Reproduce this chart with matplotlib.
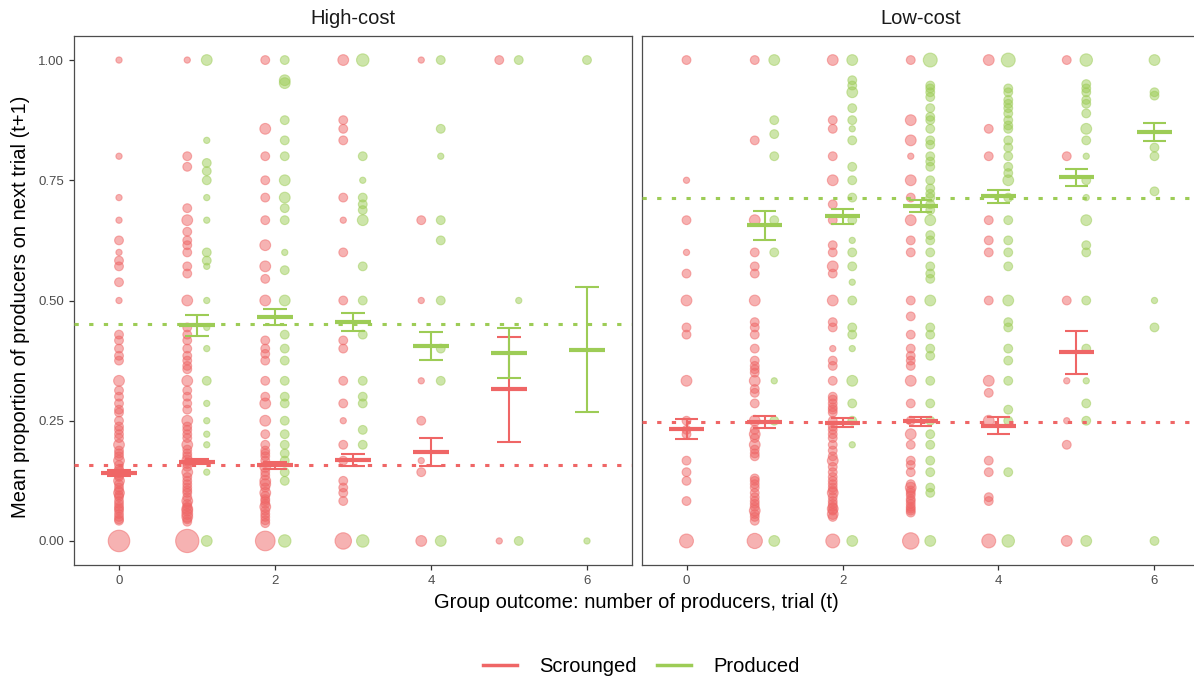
import matplotlib
matplotlib.use("Agg")
import matplotlib.pyplot as plt
from matplotlib.lines import Line2D

plt.rcParams['font.family'] = ['Liberation Sans', 'DejaVu Sans']

RED = '#EF6666'
GREEN = '#9DCC56'

facets = ["High-cost", "Low-cost"]

# individual group proportions: (proportion on next trial, number of groups)
hc_scrounged = {
    0: [(1.0, 1), (0.8, 1), (0.714, 1), (0.667, 1), (0.625, 2), (0.6, 1), (0.583, 2), (0.571, 2), (0.538, 2), (0.5, 1),
        (0.429, 2), (0.417, 2), (0.4, 2), (0.385, 2), (0.375, 2), (0.333, 3), (0.313, 2), (0.3, 2), (0.286, 2), (0.273, 2),
        (0.267, 2), (0.25, 2), (0.238, 2), (0.231, 2), (0.222, 2), (0.214, 2), (0.2, 3), (0.188, 2), (0.182, 2), (0.176, 2),
        (0.167, 3), (0.158, 2), (0.15, 2), (0.143, 3), (0.136, 2), (0.133, 2), (0.125, 3), (0.118, 2), (0.111, 2), (0.105, 2),
        (0.1, 3), (0.095, 2), (0.091, 2), (0.083, 2), (0.077, 2), (0.071, 2), (0.067, 2), (0.063, 2), (0.056, 2), (0.05, 2),
        (0.045, 2), (0.042, 2), (0.0, 12)],
    1: [(1.0, 1), (0.8, 2), (0.778, 2), (0.692, 2), (0.667, 3), (0.643, 2), (0.625, 2), (0.615, 2), (0.6, 2), (0.571, 2),
        (0.556, 2), (0.5, 3), (0.444, 2), (0.429, 2), (0.417, 2), (0.4, 2), (0.385, 2), (0.375, 2), (0.364, 2), (0.357, 2),
        (0.333, 3), (0.313, 2), (0.3, 2), (0.286, 2), (0.273, 2), (0.25, 3), (0.238, 2), (0.231, 2), (0.222, 2), (0.214, 2),
        (0.2, 3), (0.19, 2), (0.182, 2), (0.176, 2), (0.167, 3), (0.16, 2), (0.154, 2), (0.143, 3), (0.133, 2), (0.125, 2),
        (0.118, 2), (0.111, 2), (0.105, 2), (0.1, 2), (0.091, 2), (0.083, 3), (0.077, 2), (0.071, 2), (0.067, 3), (0.063, 3),
        (0.056, 3), (0.05, 3), (0.045, 2), (0.04, 2), (0.0, 14)],
    2: [(1.0, 2), (0.857, 3), (0.8, 2), (0.75, 2), (0.714, 2), (0.667, 2), (0.615, 3), (0.571, 3), (0.545, 2), (0.5, 3),
        (0.417, 2), (0.4, 2), (0.389, 2), (0.375, 2), (0.333, 2), (0.3, 2), (0.286, 3), (0.25, 3), (0.222, 2), (0.2, 2),
        (0.188, 2), (0.182, 2), (0.176, 2), (0.167, 2), (0.154, 3), (0.143, 2), (0.136, 2), (0.125, 3), (0.118, 3), (0.111, 2),
        (0.1, 3), (0.094, 2), (0.087, 2), (0.083, 2), (0.077, 2), (0.071, 3), (0.063, 2), (0.056, 2), (0.05, 2), (0.043, 2),
        (0.037, 2), (0.0, 10)],
    3: [(1.0, 3), (0.875, 2), (0.857, 2), (0.833, 2), (0.714, 2), (0.667, 1), (0.6, 2), (0.5, 2), (0.417, 2), (0.4, 2),
        (0.333, 2), (0.286, 2), (0.25, 1), (0.2, 2), (0.167, 2), (0.125, 2), (0.111, 2), (0.1, 2), (0.083, 2), (0.0, 7)],
    4: [(1.0, 1), (0.667, 2), (0.5, 1), (0.333, 1), (0.25, 2), (0.167, 1), (0.143, 2), (0.0, 3)],
    5: [(1.0, 2), (0.0, 1)],
}
hc_produced = {
    1: [(1.0, 3), (0.833, 1), (0.786, 2), (0.769, 2), (0.75, 2), (0.714, 1), (0.667, 1), (0.6, 2), (0.583, 2), (0.571, 1),
        (0.5, 1), (0.444, 1), (0.4, 1), (0.333, 2), (0.286, 1), (0.25, 1), (0.222, 1), (0.2, 1), (0.143, 1), (0.0, 3)],
    2: [(1.0, 2), (0.958, 3), (0.952, 3), (0.875, 2), (0.833, 2), (0.8, 2), (0.75, 3), (0.714, 3), (0.692, 2), (0.667, 2),
        (0.6, 1), (0.563, 2), (0.5, 3), (0.429, 2), (0.4, 2), (0.375, 2), (0.333, 2), (0.3, 2), (0.286, 2), (0.25, 2),
        (0.222, 2), (0.2, 2), (0.182, 2), (0.167, 2), (0.143, 2), (0.125, 2), (0.0, 4)],
    3: [(1.0, 4), (0.8, 2), (0.75, 1), (0.714, 2), (0.7, 2), (0.688, 2), (0.667, 3), (0.571, 2), (0.5, 2), (0.429, 2),
        (0.333, 2), (0.3, 2), (0.286, 2), (0.231, 2), (0.2, 2), (0.0, 4)],
    4: [(1.0, 2), (0.857, 2), (0.8, 1), (0.667, 2), (0.625, 2), (0.5, 2), (0.4, 2), (0.333, 2), (0.0, 3)],
    5: [(1.0, 2), (0.5, 1), (0.0, 2)],
    6: [(1.0, 2), (0.0, 1)],
}
lc_scrounged = {
    0: [(1.0, 2), (0.75, 1), (0.667, 2), (0.6, 1), (0.556, 2), (0.5, 3), (0.444, 2), (0.429, 2), (0.333, 3), (0.25, 2),
        (0.231, 2), (0.222, 2), (0.167, 2), (0.143, 2), (0.125, 2), (0.083, 2), (0.0, 5)],
    1: [(1.0, 2), (0.833, 2), (0.667, 3), (0.6, 2), (0.571, 2), (0.556, 2), (0.5, 3), (0.455, 2), (0.444, 2), (0.429, 2),
        (0.4, 2), (0.375, 2), (0.364, 2), (0.357, 2), (0.35, 2), (0.333, 3), (0.316, 2), (0.308, 2), (0.286, 2), (0.25, 3),
        (0.231, 2), (0.222, 3), (0.214, 2), (0.2, 3), (0.19, 2), (0.182, 2), (0.176, 2), (0.13, 2), (0.125, 2), (0.118, 2),
        (0.111, 2), (0.1, 2), (0.091, 2), (0.083, 2), (0.077, 2), (0.071, 2), (0.063, 3), (0.056, 2), (0.05, 2), (0.042, 2),
        (0.0, 6)],
    2: [(1.0, 3), (0.875, 2), (0.857, 2), (0.8, 2), (0.75, 3), (0.7, 2), (0.667, 2), (0.615, 2), (0.6, 2), (0.571, 3),
        (0.556, 2), (0.5, 3), (0.455, 2), (0.444, 2), (0.4, 1), (0.375, 2), (0.364, 2), (0.333, 2), (0.3, 2), (0.294, 2),
        (0.286, 2), (0.278, 2), (0.273, 2), (0.267, 2), (0.25, 2), (0.238, 2), (0.231, 2), (0.222, 2), (0.214, 2), (0.2, 2),
        (0.188, 2), (0.176, 2), (0.167, 3), (0.154, 2), (0.143, 2), (0.133, 2), (0.125, 2), (0.118, 2), (0.111, 2),
        (0.105, 2), (0.1, 3), (0.091, 2), (0.083, 2), (0.077, 2), (0.071, 2), (0.067, 3), (0.063, 2), (0.056, 3),
        (0.05, 2), (0.0, 5)],
    3: [(1.0, 2), (0.875, 3), (0.833, 3), (0.8, 1), (0.75, 3), (0.714, 2), (0.667, 3), (0.625, 2), (0.6, 2), (0.5, 2),
        (0.467, 2), (0.429, 2), (0.4, 2), (0.385, 2), (0.375, 2), (0.364, 2), (0.333, 3), (0.286, 2), (0.25, 2), (0.222, 3),
        (0.2, 2), (0.167, 2), (0.158, 2), (0.143, 2), (0.118, 2), (0.111, 3), (0.105, 2), (0.1, 2), (0.095, 2), (0.087, 2),
        (0.083, 2), (0.077, 2), (0.071, 2), (0.067, 2), (0.063, 2), (0.059, 2), (0.0, 7)],
    4: [(1.0, 3), (0.857, 2), (0.8, 2), (0.667, 2), (0.625, 2), (0.6, 2), (0.5, 2), (0.333, 3), (0.308, 2), (0.25, 3),
        (0.167, 2), (0.143, 2), (0.091, 2), (0.083, 2), (0.0, 5)],
    5: [(1.0, 2), (0.8, 2), (0.5, 2), (0.333, 1), (0.25, 1), (0.2, 2), (0.0, 3)],
}
lc_produced = {
    1: [(1.0, 3), (0.875, 2), (0.846, 2), (0.8, 2), (0.667, 2), (0.6, 2), (0.333, 1), (0.25, 2), (0.0, 3)],
    2: [(1.0, 3), (0.958, 2), (0.947, 2), (0.933, 3), (0.9, 2), (0.875, 2), (0.857, 1), (0.833, 2), (0.778, 2), (0.75, 2),
        (0.714, 2), (0.667, 2), (0.625, 1), (0.6, 2), (0.571, 2), (0.538, 1), (0.5, 2), (0.444, 2), (0.429, 2), (0.4, 1),
        (0.333, 3), (0.286, 2), (0.25, 2), (0.2, 1), (0.0, 3)],
    3: [(1.0, 5), (0.947, 2), (0.941, 2), (0.933, 2), (0.923, 2), (0.9, 2), (0.882, 2), (0.875, 2), (0.857, 2), (0.833, 2),
        (0.824, 2), (0.8, 2), (0.789, 2), (0.778, 2), (0.75, 2), (0.733, 2), (0.722, 2), (0.714, 2), (0.7, 2), (0.688, 2),
        (0.667, 3), (0.636, 2), (0.625, 2), (0.6, 2), (0.571, 2), (0.556, 2), (0.545, 2), (0.5, 3), (0.444, 2), (0.429, 2),
        (0.4, 2), (0.385, 2), (0.333, 2), (0.286, 2), (0.25, 2), (0.222, 2), (0.2, 2), (0.167, 2), (0.143, 2), (0.111, 2),
        (0.1, 2), (0.0, 3)],
    4: [(1.0, 5), (0.941, 2), (0.933, 2), (0.917, 2), (0.909, 2), (0.9, 2), (0.889, 2), (0.875, 2), (0.864, 2), (0.857, 2),
        (0.833, 2), (0.818, 2), (0.8, 2), (0.778, 2), (0.765, 2), (0.75, 3), (0.714, 2), (0.667, 2), (0.625, 2), (0.6, 2),
        (0.571, 2), (0.5, 3), (0.455, 2), (0.444, 2), (0.4, 2), (0.375, 2), (0.333, 2), (0.273, 2), (0.25, 2), (0.143, 2),
        (0.0, 4)],
    5: [(1.0, 4), (0.95, 2), (0.941, 2), (0.933, 2), (0.917, 2), (0.909, 2), (0.889, 2), (0.857, 3), (0.833, 2), (0.8, 1),
        (0.75, 2), (0.714, 1), (0.667, 3), (0.615, 2), (0.6, 2), (0.5, 2), (0.4, 2), (0.333, 1), (0.286, 2), (0.25, 2),
        (0.0, 3)],
    6: [(1.0, 3), (0.933, 2), (0.926, 2), (0.818, 2), (0.8, 2), (0.727, 2), (0.5, 1), (0.444, 2), (0.0, 2)],
}

# means with +/- 1 SE per group outcome
hc_scr_x = [0, 1, 2, 3, 4, 5]
hc_scr_mean = [0.1415, 0.165, 0.158, 0.168, 0.184, 0.315]
hc_scr_lo = [0.135, 0.159, 0.149, 0.155, 0.156, 0.206]
hc_scr_hi = [0.148, 0.171, 0.165, 0.181, 0.215, 0.424]

hc_pro_x = [1, 2, 3, 4, 5, 6]
hc_pro_mean = [0.449, 0.466, 0.456, 0.405, 0.391, 0.398]
hc_pro_lo = [0.427, 0.449, 0.437, 0.376, 0.339, 0.268]
hc_pro_hi = [0.470, 0.482, 0.474, 0.435, 0.443, 0.528]

lc_scr_x = [0, 1, 2, 3, 4, 5]
lc_scr_mean = [0.232, 0.247, 0.246, 0.249, 0.240, 0.392]
lc_scr_lo = [0.211, 0.234, 0.236, 0.238, 0.222, 0.347]
lc_scr_hi = [0.253, 0.260, 0.256, 0.258, 0.258, 0.437]

lc_pro_x = [1, 2, 3, 4, 5, 6]
lc_pro_mean = [0.657, 0.676, 0.697, 0.718, 0.757, 0.850]
lc_pro_lo = [0.626, 0.660, 0.683, 0.703, 0.739, 0.832]
lc_pro_hi = [0.687, 0.690, 0.709, 0.730, 0.774, 0.870]

# overall means (dotted reference lines)
hc_overall = {"Scrounged": 0.158, "Produced": 0.452}
lc_overall = {"Scrounged": 0.248, "Produced": 0.713}

panels = [
    (hc_scrounged, hc_produced,
     (hc_scr_x, hc_scr_mean, hc_scr_lo, hc_scr_hi),
     (hc_pro_x, hc_pro_mean, hc_pro_lo, hc_pro_hi), hc_overall),
    (lc_scrounged, lc_produced,
     (lc_scr_x, lc_scr_mean, lc_scr_lo, lc_scr_hi),
     (lc_pro_x, lc_pro_mean, lc_pro_lo, lc_pro_hi), lc_overall),
]

W, H = 1194, 678
fig = plt.figure(figsize=(W / 100, H / 100), dpi=100)
ax_l = fig.add_axes([74 / W, 1 - 565 / H, 558 / W, 529 / H])
ax_r = fig.add_axes([641.5 / W, 1 - 565 / H, 558 / W, 529 / H])
axes = [ax_l, ax_r]

DODGE = 0.125


def draw_points(ax, pts, other, color, sign):
    xs, ys, ss = [], [], []
    for x, vals in pts.items():
        off = sign * DODGE if x in other else 0.0
        for y, n in vals:
            xs.append(x + off)
            ys.append(y)
            ss.append(20 * n)
    ax.scatter(xs, ys, s=ss, color=color, alpha=0.5, linewidths=0.8, zorder=2)


def draw_summary(ax, summ, color):
    x, m, lo, hi = summ
    for xi, mi, l, h in zip(x, m, lo, hi):
        ax.plot([xi, xi], [l, h], color=color, lw=1.5, zorder=4, solid_capstyle='butt')
        ax.plot([xi - 0.15, xi + 0.15], [l, l], color=color, lw=1.5, zorder=4, solid_capstyle='butt')
        ax.plot([xi - 0.15, xi + 0.15], [h, h], color=color, lw=1.5, zorder=4, solid_capstyle='butt')
        ax.plot([xi - 0.225, xi + 0.225], [mi, mi], color=color, lw=3.0, zorder=5, solid_capstyle='butt')


for ax, name, (scr, pro, s_sum, p_sum, overall) in zip(axes, facets, panels):
    draw_points(ax, scr, pro, RED, -1)
    draw_points(ax, pro, scr, GREEN, 1)
    ax.axhline(overall["Scrounged"], color=RED, lw=2.2, ls=(0, (1.4, 3.4)), zorder=3)
    ax.axhline(overall["Produced"], color=GREEN, lw=2.2, ls=(0, (1.4, 3.4)), zorder=3)
    draw_summary(ax, s_sum, RED)
    draw_summary(ax, p_sum, GREEN)

    ax.set_xlim(-0.577, 6.577)
    ax.set_ylim(-0.05, 1.05)
    ax.set_xticks([0, 2, 4, 6])
    ax.set_yticks([0, 0.25, 0.5, 0.75, 1.0])
    ax.set_yticklabels(["0.00", "0.25", "0.50", "0.75", "1.00"])
    ax.tick_params(colors='#333333', labelcolor='#4D4D4D', labelsize=9.5, length=3.5, width=0.9)
    for sp in ax.spines.values():
        sp.set_color('#4D4D4D')
        sp.set_linewidth(0.9)
    bb = ax.get_position()
    fig.text((bb.x0 + bb.x1) / 2, 1 - 18 / H, name, ha='center', va='center', fontsize=14.5, color='#1A1A1A')

ax_r.tick_params(axis='y', left=False, labelleft=False)
ax_r.spines['right'].set_visible(False)

fig.text(636 / W, 1 - 602 / H, "Group outcome: number of producers, trial (t)",
         ha='center', va='center', fontsize=14.5, color='black')
fig.text(21 / W, 1 - 307 / H, "Mean proportion of producers on next trial (t+1)",
         ha='center', va='center', rotation=90, fontsize=14.5, color='black')

handles = [Line2D([], [], color=RED, lw=2.5), Line2D([], [], color=GREEN, lw=2.5)]
fig.legend(handles, ["Scrounged", "Produced"], loc='center', bbox_to_anchor=(641 / W, 1 - 667 / H),
           ncol=2, frameon=False, fontsize=14.5, handlelength=1.7, handletextpad=1.1, columnspacing=1.0)

plt.savefig("out.png", dpi=100)
